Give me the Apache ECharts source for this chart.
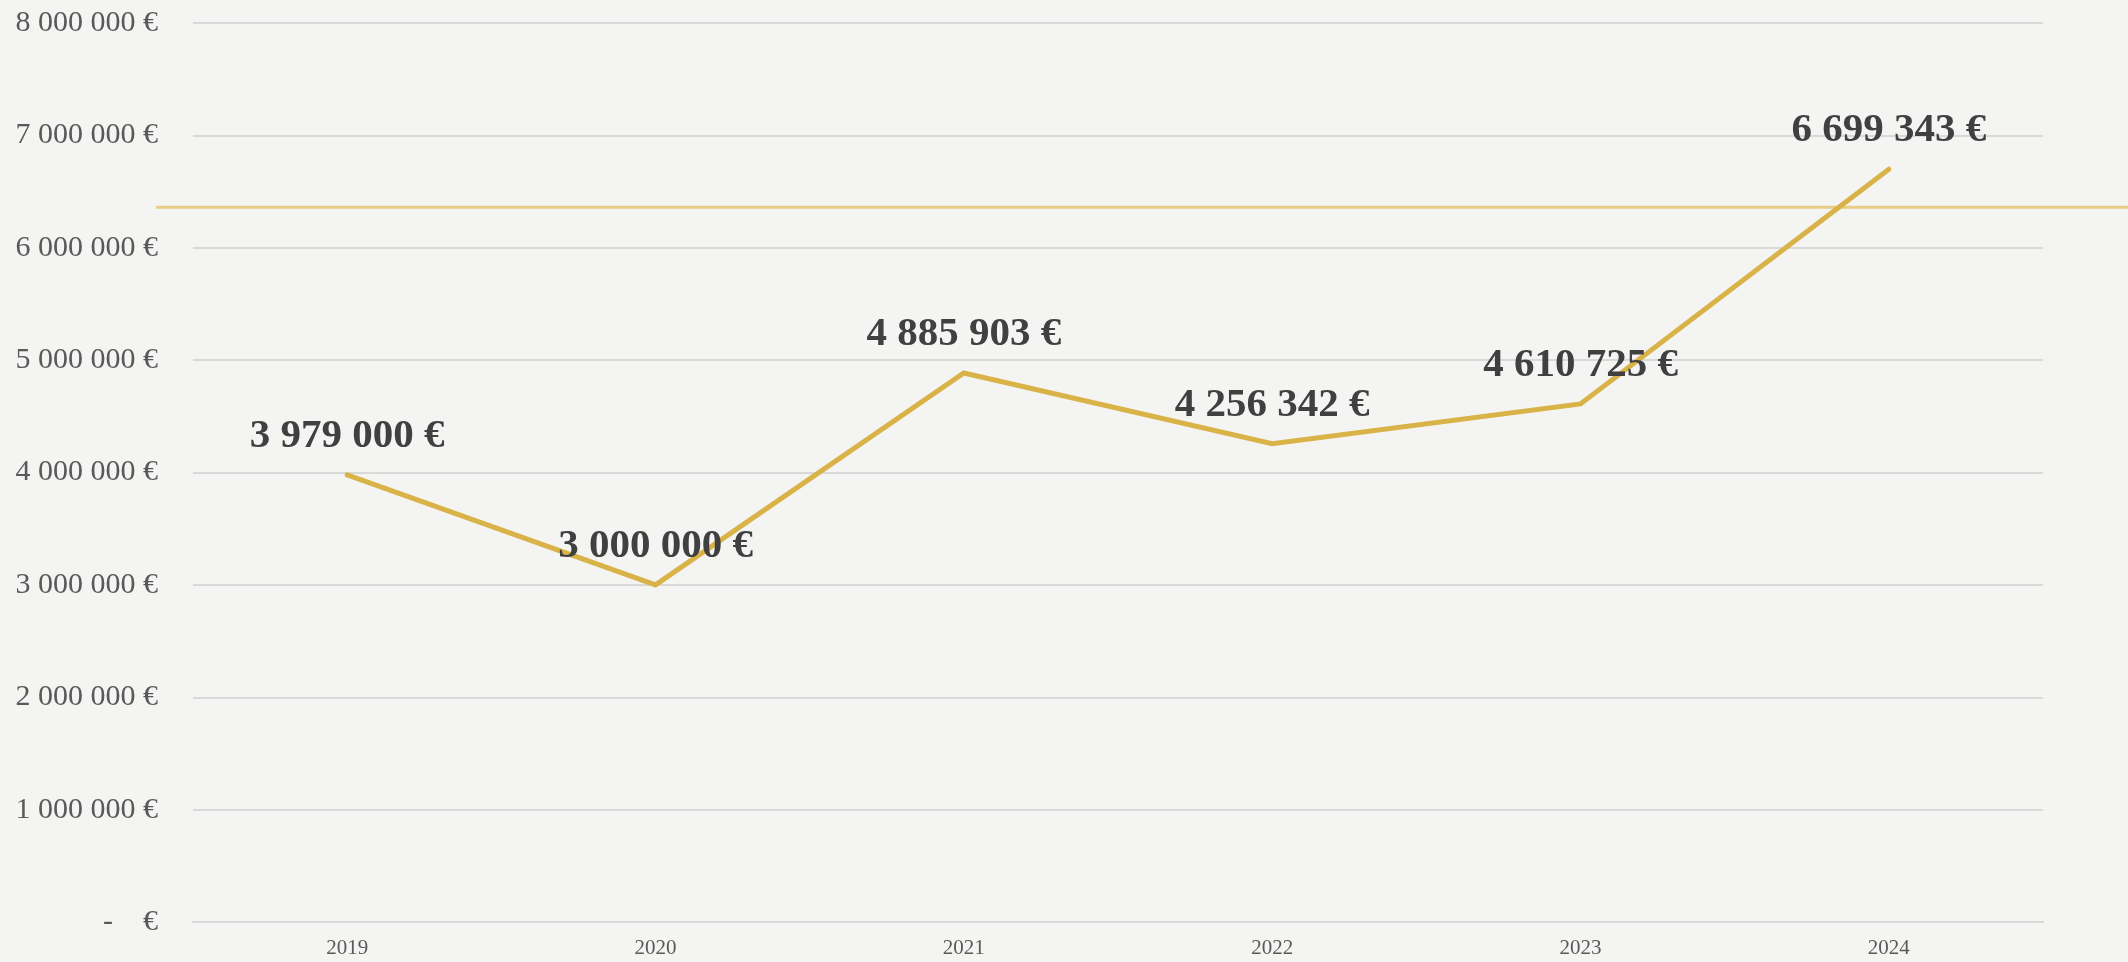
<!DOCTYPE html>
<html>
<head>
<meta charset="utf-8">
<script src="https://cdn.jsdelivr.net/npm/echarts@6/dist/echarts.min.js"></script>
<style>
    html, body { margin: 0; padding: 0; background: #f4f4f3; }
    #chart { width: 2128px; height: 962px; }
</style>
</head>
<body>
<div id="chart"></div>
<script>
// years and yearly amounts (EUR)
var years = ['2019', '2020', '2021', '2022', '2023', '2024'];
var amounts = [3979000, 3000000, 4885903, 4256342, 4610725, 6699343];
// horizontal target line, runs past the plot on both sides
var targetValue = 6360000;
var yTicks = [0, 1000000, 2000000, 3000000, 4000000, 5000000, 6000000, 7000000, 8000000];

function euro(v) {
    if (v === 0) return '-    €';
    return String(Math.round(v)).replace(/\B(?=(\d{3})+(?!\d))/g, ' ') + ' €';
}

var chart = echarts.init(document.getElementById('chart'));

chart.setOption({
    backgroundColor: '#f4f4f3',
    animation: false,
    textStyle: {fontFamily: '"Liberation Serif", "DejaVu Serif", serif'},
    grid: [
        {left: 193, right: 85, top: 23, bottom: 40},
        {left: 156, right: 0, top: 23, bottom: 40}
    ],
    xAxis: [
        {
            type: 'category',
            gridIndex: 0,
            data: years,
            boundaryGap: true,
            axisLine: {show: true, lineStyle: {color: '#d9d9d9', width: 2}},
            axisTick: {show: false},
            axisLabel: {color: '#595959', fontSize: 21, margin: 16}
        },
        {
            type: 'value',
            gridIndex: 1,
            min: 0,
            max: 1,
            show: false
        }
    ],
    yAxis: [
        {
            type: 'value',
            gridIndex: 0,
            min: yTicks[0],
            max: yTicks[yTicks.length - 1],
            interval: 1000000,
            axisLine: {show: false},
            axisTick: {show: false},
            splitLine: {lineStyle: {color: '#d9d9d9', width: 2}},
            axisLabel: {
                color: '#595959',
                fontSize: 30,
                margin: 35,
                formatter: euro
            }
        },
        {
            type: 'value',
            gridIndex: 1,
            min: yTicks[0],
            max: yTicks[yTicks.length - 1],
            show: false
        }
    ],
    series: [
        {
            name: 'Target',
            type: 'line',
            xAxisIndex: 1,
            yAxisIndex: 1,
            silent: true,
            symbol: 'none',
            z: 1,
            data: [[0, targetValue], [1, targetValue]],
            lineStyle: {color: '#e9cd85', width: 3}
        },
        {
            name: 'Amount',
            type: 'line',
            xAxisIndex: 0,
            yAxisIndex: 0,
            symbol: 'circle',
            symbolSize: 2,
            showSymbol: true,
            showAllSymbol: true,
            itemStyle: {color: '#d9b347', borderWidth: 0},
            z: 2,
            data: amounts,
            lineStyle: {color: '#d9b347', width: 5, cap: 'round', join: 'miter'},
            label: {
                show: true,
                position: 'top',
                distance: 17,
                offset: [5, 0],
                color: '#404040',
                fontSize: 41,
                fontWeight: 'bold',
                formatter: function (p) { return euro(p.value); }
            },
            labelLayout: {hideOverlap: false}
        }
    ]
});
</script>
</body>
</html>
